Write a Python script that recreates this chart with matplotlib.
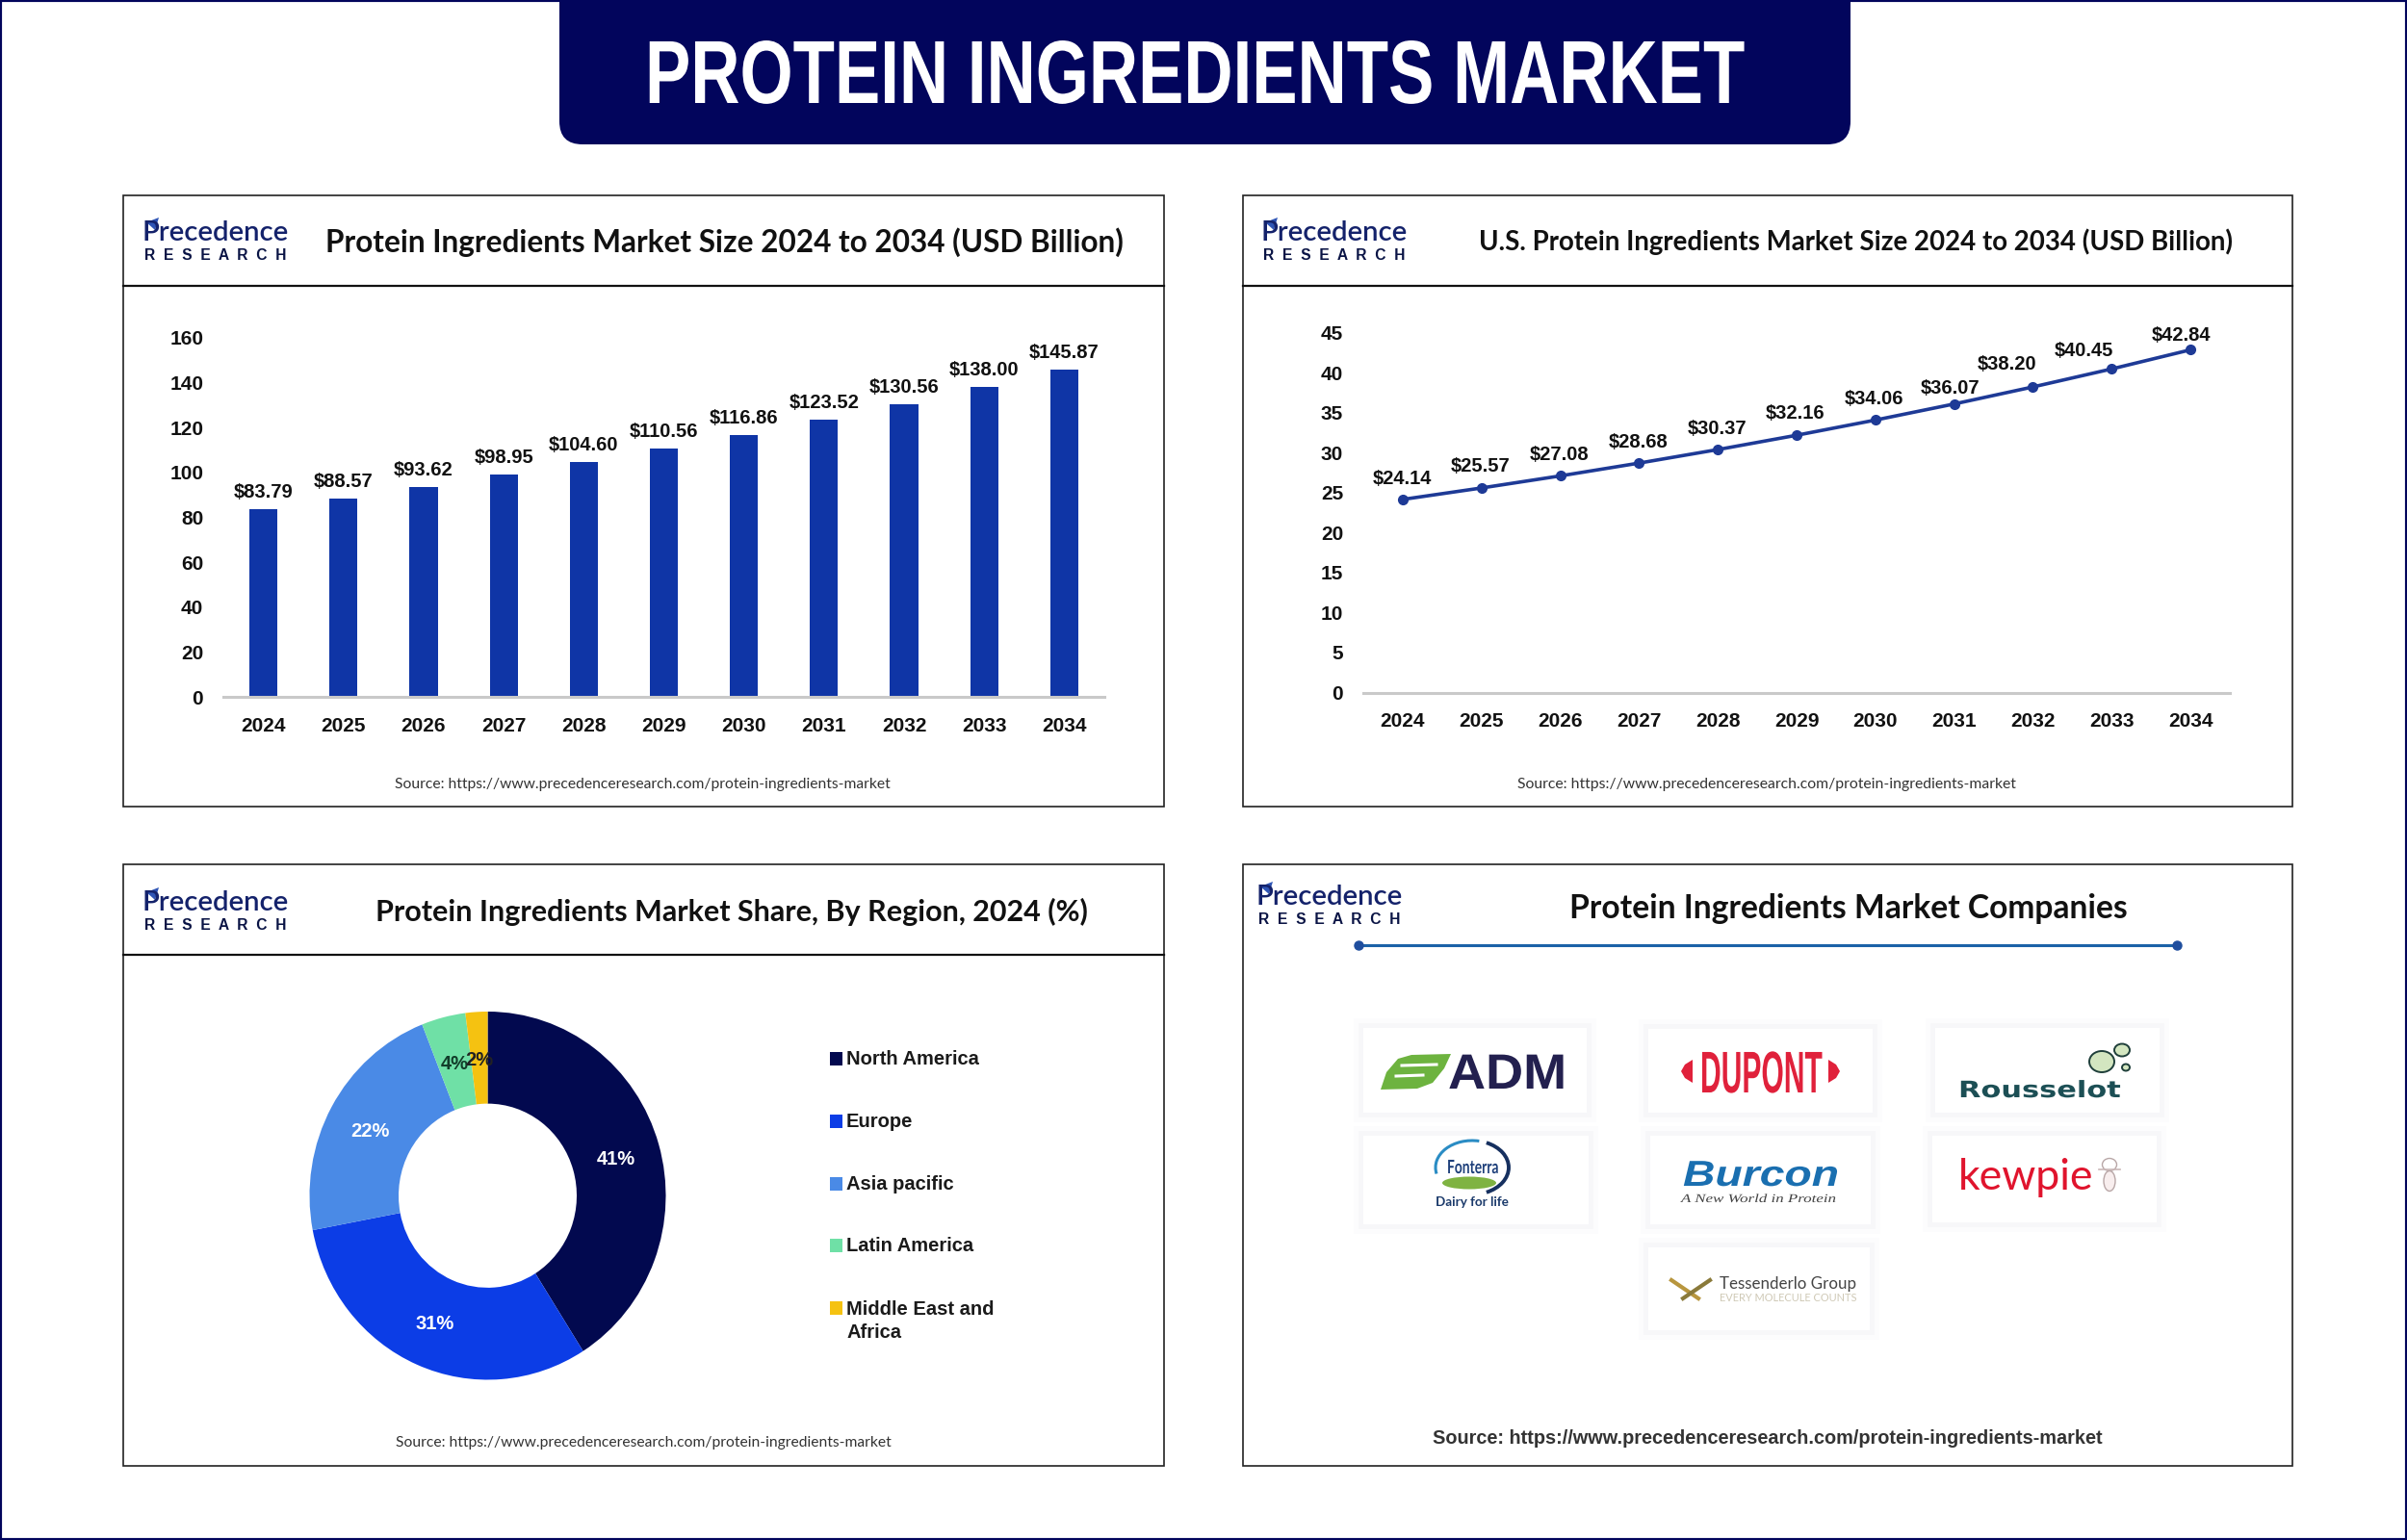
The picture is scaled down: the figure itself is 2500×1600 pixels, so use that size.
import matplotlib.pyplot as plt
from matplotlib.patches import Arc, Ellipse, FancyBboxPatch, Polygon, Rectangle
from matplotlib.patheffects import AbstractPathEffect
from matplotlib.transforms import Affine2D

W, H = 2500, 1600

years = ["2024", "2025", "2026", "2027", "2028", "2029", "2030", "2031", "2032", "2033", "2034"]
global_size = [83.79, 88.57, 93.62, 98.95, 104.60, 110.56, 116.86, 123.52, 130.56, 138.00, 145.87]
us_size = [24.14, 25.57, 27.08, 28.68, 30.37, 32.16, 34.06, 36.07, 38.20, 40.45, 42.84]
bar_ticks = [0, 20, 40, 60, 80, 100, 120, 140, 160]
line_ticks = [0, 5, 10, 15, 20, 25, 30, 35, 40, 45]
regions = ["North America", "Europe", "Asia pacific", "Latin America", "Middle East and\nAfrica"]
shares = [41, 31, 22, 4, 2]
region_colors = ["#02094f", "#0c3de6", "#4a8ae6", "#6fe0a6", "#f5c211"]

NAVY = "#02055c"
BAR_BLUE = "#0f35a6"
LINE_BLUE = "#1e3a96"
GREY = "#c9c9c9"
INK = "#111111"
SOURCE = "https://www.precedenceresearch.com/protein-ingredients-market"

plt.rcParams["font.family"] = "Liberation Sans"

fig = plt.figure(figsize=(25, 16), dpi=100, facecolor="white")
bg = fig.add_axes([0, 0, 1, 1])
bg.set_xlim(0, W)
bg.set_ylim(H, 0)
bg.axis("off")


class Squeeze(AbstractPathEffect):
    # no condensed font is installed, so narrow the glyphs about a centre x (pixels)
    def __init__(self, sx, cx):
        super().__init__()
        self.sx = sx
        self.cx = cx

    def draw_path(self, renderer, gc, tpath, affine, rgbFace=None):
        squeeze = Affine2D().translate(-self.cx, 0).scale(self.sx, 1).translate(self.cx, 0)
        renderer.draw_path(gc, tpath, affine + squeeze, rgbFace)


def px_axes(left, top, right, bottom):
    ax = fig.add_axes([left / W, 1 - bottom / H, (right - left) / W, (bottom - top) / H])
    ax.patch.set_alpha(0)
    return ax


def text_width(t):
    return t.get_window_extent(fig.canvas.get_renderer()).width


def fit_text(x0, x1, y, s, **kw):
    # scale the font so the text covers the width measured on the reference
    t = bg.text((x0 + x1) / 2, y, s, ha="center", va="center", **kw)
    t.set_fontsize(t.get_fontsize() * (x1 - x0) / text_width(t))
    return t


def squeezed_text(x0, x1, base, s, **kw):
    # keeps the font size (glyph height) and narrows or widens to the measured width
    cx = (x0 + x1) / 2
    t = bg.text(cx, base, s, ha="center", va="baseline", **kw)
    t.set_path_effects([Squeeze((x1 - x0) / text_width(t), cx)])
    return t


def panel(left, top, right, bottom, header=None):
    bg.add_patch(Rectangle((left, top), right - left, bottom - top, fill=False, ec="#222222", lw=1.2))
    if header:
        bg.plot([left, right], [header, header], color="#111111", lw=1.6)


def logo(x, y):
    fit_text(x + 19, x + 172, y + 40, "Precedence", family="Lato", weight="semibold", color="#14226b", fontsize=26)
    bg.add_patch(Polygon([(x + 24, y + 29), (x + 37, y + 24), (x + 33, y + 37)], fc="#2f55b5", ec="none"))
    fit_text(x + 22, x + 169, y + 63, "R  E  S  E  A  R  C  H", weight="bold", color="#0a1445", fontsize=12)


def style_axis(ax, ticks):
    for side in ["top", "right", "left"]:
        ax.spines[side].set_visible(False)
    ax.spines["bottom"].set_color(GREY)
    ax.spines["bottom"].set_linewidth(2.2)
    ax.set_xlim(-0.5, 10.5)
    ax.set_xticks(range(len(years)), years)
    ax.set_yticks(ticks)
    ax.tick_params(axis="both", length=0, labelsize=15, labelcolor=INK)
    ax.tick_params(axis="x", pad=15)
    ax.tick_params(axis="y", pad=15)
    for lab in ax.get_xticklabels() + ax.get_yticklabels():
        lab.set_fontweight("bold")


# page frame and banner
bg.add_patch(Rectangle((0, 0), W, H, fill=False, ec=NAVY, lw=3))
bg.add_patch(FancyBboxPatch((581, -60), 1341, 210, boxstyle="round,pad=0,rounding_size=24", fc=NAVY, ec="none"))
squeezed_text(670, 1812, 107, "PROTEIN INGREDIENTS MARKET", weight="bold", color="white", fontsize=67)

panel(128, 202.5, 1209, 838, 297)
panel(1290.5, 202.5, 2381, 838, 297)
panel(128, 898, 1209, 1522.5, 991.5)
panel(1290.5, 898, 2381, 1522.5)

for lx, ly in [(128, 202), (1290, 202), (128, 898), (1285, 892)]:
    logo(lx, ly)

title_kw = dict(family="Lato", weight="bold", color=INK, fontsize=24)
fit_text(337.5, 1168, 252, "Protein Ingredients Market Size 2024 to 2034 (USD Billion)", **title_kw)
fit_text(1535, 2319, 251.5, "U.S. Protein Ingredients Market Size 2024 to 2034 (USD Billion)", **title_kw)
fit_text(389.5, 1130.5, 947.5, "Protein Ingredients Market Share, By Region, 2024 (%)", **title_kw)
fit_text(1630, 2209.5, 944.5, "Protein Ingredients Market Companies", **title_kw)

src_kw = dict(family="Lato", color="#333333", fontsize=12)
fit_text(412, 923.5, 815.5, "Source: " + SOURCE, **src_kw)
fit_text(1577, 2093, 815.5, "Source: " + SOURCE, **src_kw)
fit_text(412.5, 924, 1499.5, "Source: " + SOURCE, **src_kw)
fit_text(1487.5, 2184, 1494, "Source: " + SOURCE, weight="bold", color="#333333", fontsize=14)

# market size bars
ax1 = px_axes(232, 351, 1147, 724)
ax1.bar(range(len(years)), global_size, width=0.35, color=BAR_BLUE)
ax1.set_ylim(0, 160)
style_axis(ax1, bar_ticks)
for i, v in enumerate(global_size):
    ax1.annotate(f"${v:.2f}", (i, v), xytext=(0, 19.5), textcoords="offset pixels", ha="center",
                 va="center_baseline", fontsize=14.5, fontweight="bold", color=INK)

# U.S. market size line
ax2 = px_axes(1416, 345.5, 2316, 719.5)
ax2.plot(range(len(years)), us_size, color=LINE_BLUE, lw=2.6, marker="o", ms=7, solid_capstyle="round")
ax2.set_ylim(0, 45)
style_axis(ax2, line_ticks)
label_dx = [-1, -1, -1, -1, -1, -1, -1, -4, -27, -29, -10]
label_dy = [23.5, 24, 23.5, 24, 24, 25, 24, 18, 25.5, 21, 16.5]
for i, v in enumerate(us_size):
    ax2.annotate(f"${v:.2f}", (i, v), xytext=(label_dx[i], label_dy[i]), textcoords="offset pixels",
                 ha="center", va="center_baseline", fontsize=14.5, fontweight="bold", color=INK)

# regional donut
ax3 = px_axes(321.5, 1051, 691.5, 1433.5)
wedges, _, pcts = ax3.pie(shares, colors=region_colors, startangle=90, counterclock=False, radius=1,
                          wedgeprops=dict(width=0.5), autopct=lambda p: f"{p:.0f}%", pctdistance=0.75,
                          textprops=dict(fontsize=14.5, fontweight="bold"))
ax3.set_aspect("auto")
ax3.set_xlim(-1, 1)
ax3.set_ylim(-1, 1)
for p, c in zip(pcts, ["white", "white", "white", "#123d2a", "#222222"]):
    p.set_color(c)
    p.set_va("center_baseline")

legend_y = [1100, 1164.5, 1229.5, 1294, 1359]
for name, color, y in zip(regions, region_colors, legend_y):
    bg.add_patch(Rectangle((862, y - 7), 12.5, 14, fc=color, ec="none"))
    bg.text(879, y - 8.5, name, ha="left", va="top", fontsize=14.5, fontweight="bold", color="#1a1a1a", linespacing=1.4)

# companies panel
bg.plot([1411, 2260.5], [982, 982], color="#1c62a8", lw=2.2)
bg.plot([1411, 2260.5], [982, 982], ls="none", marker="o", ms=6.5, color="#1f4e9e")

cards = [(1416, 1068, 1648, 1156), (1712, 1069, 1945, 1156), (2010, 1068, 2243, 1156),
         (1416, 1180, 1650, 1272), (1714, 1180, 1943, 1272), (2007, 1180, 2240, 1270),
         (1712, 1296, 1942, 1382)]
for x0, y0, x1, y1 in cards:
    for grow, shade in [(10, "#fcfcfd"), (5, "#f7f7f9")]:
        bg.add_patch(Rectangle((x0 - grow, y0 - grow), x1 - x0 + 2 * grow, y1 - y0 + 2 * grow, fc=shade, ec="none"))
    bg.add_patch(Rectangle((x0, y0), x1 - x0, y1 - y0, fc="white", ec="none"))

# ADM
bg.add_patch(Polygon([(1434, 1132), (1440, 1114), (1452, 1100), (1466, 1096), (1507, 1095), (1500, 1110),
                      (1488, 1125), (1472, 1131)], fc="#6db33f", ec="none"))
bg.plot([1456, 1492], [1107, 1106], color="white", lw=2.2)
bg.plot([1450, 1478], [1118, 1117], color="white", lw=2.2)
squeezed_text(1504, 1627, 1131, "ADM", weight="bold", color="#23204f", fontsize=37)

# DuPont
squeezed_text(1766, 1893, 1135, "DUPONT", weight="bold", color="#e0213b", fontsize=44)
bg.add_patch(Polygon([(1746, 1113), (1750, 1106), (1758, 1101), (1758, 1125), (1750, 1120)], fc="#e0213b", ec="none"))
bg.add_patch(Polygon([(1911, 1113), (1907, 1106), (1899, 1101), (1899, 1125), (1907, 1120)], fc="#e0213b", ec="none"))

# Rousselot
squeezed_text(2034, 2203, 1140, "Rousselot", family="DejaVu Sans", weight="bold", color="#1c4f55", fontsize=17)
for cx, cy, rx, ry in [(2183, 1103, 13, 11), (2204, 1091, 8, 6.5), (2208, 1109, 4, 3.5)]:
    bg.add_patch(Ellipse((cx, cy), 2 * rx, 2 * ry, fc="#d3e6c0", ec="#1f3f3a", lw=1.4))

# Fonterra
bg.add_patch(Ellipse((1526, 1229), 56, 13, fc="#7fb342", ec="none"))
bg.add_patch(Arc((1529, 1213), 76, 56, theta1=170, theta2=285, ec="#2a8cc4", lw=2.2))
bg.add_patch(Arc((1529, 1213), 76, 56, theta1=-60, theta2=60, ec="#16305f", lw=2.8))
squeezed_text(1503, 1557, 1219, "Fonterra", family="Lato", weight="bold", color="#1d3f7a", fontsize=14)
fit_text(1491, 1567, 1249, "Dairy for life", family="Lato", weight="bold", color="#1b3a6b", fontsize=14)

# Burcon
squeezed_text(1748, 1910, 1232, "Burcon", weight="bold", style="italic", color="#1a6fb0", fontsize=27)
squeezed_text(1746, 1907, 1249, "A New World in Protein", family="Liberation Serif", style="italic",
              color="#444444", fontsize=9)

# Kewpie
fit_text(2034, 2175, 1224, "kewpie", family="Lato", color="#e0142d", fontsize=34)
bg.add_patch(Ellipse((2191, 1210), 15, 13, fc="white", ec="#b9a7a7", lw=1))
bg.add_patch(Ellipse((2191, 1227), 12, 21, fc="#f8eeee", ec="#b9a7a7", lw=1))
bg.plot([2180, 2202], [1215, 1215], color="#c9b7b7", lw=1.2)

# Tessenderlo
bg.plot([1736, 1764], [1330, 1349], color="#b8963e", lw=3)
bg.plot([1776, 1748], [1330, 1349], color="#8a7a3a", lw=3)
fit_text(1786, 1928, 1334, "Tessenderlo Group", family="Lato", color="#444444", fontsize=14)
fit_text(1786, 1928, 1349, "EVERY MOLECULE COUNTS", family="Lato", color="#cfc9b6", fontsize=10)

fig.savefig("out.png", dpi=100)
